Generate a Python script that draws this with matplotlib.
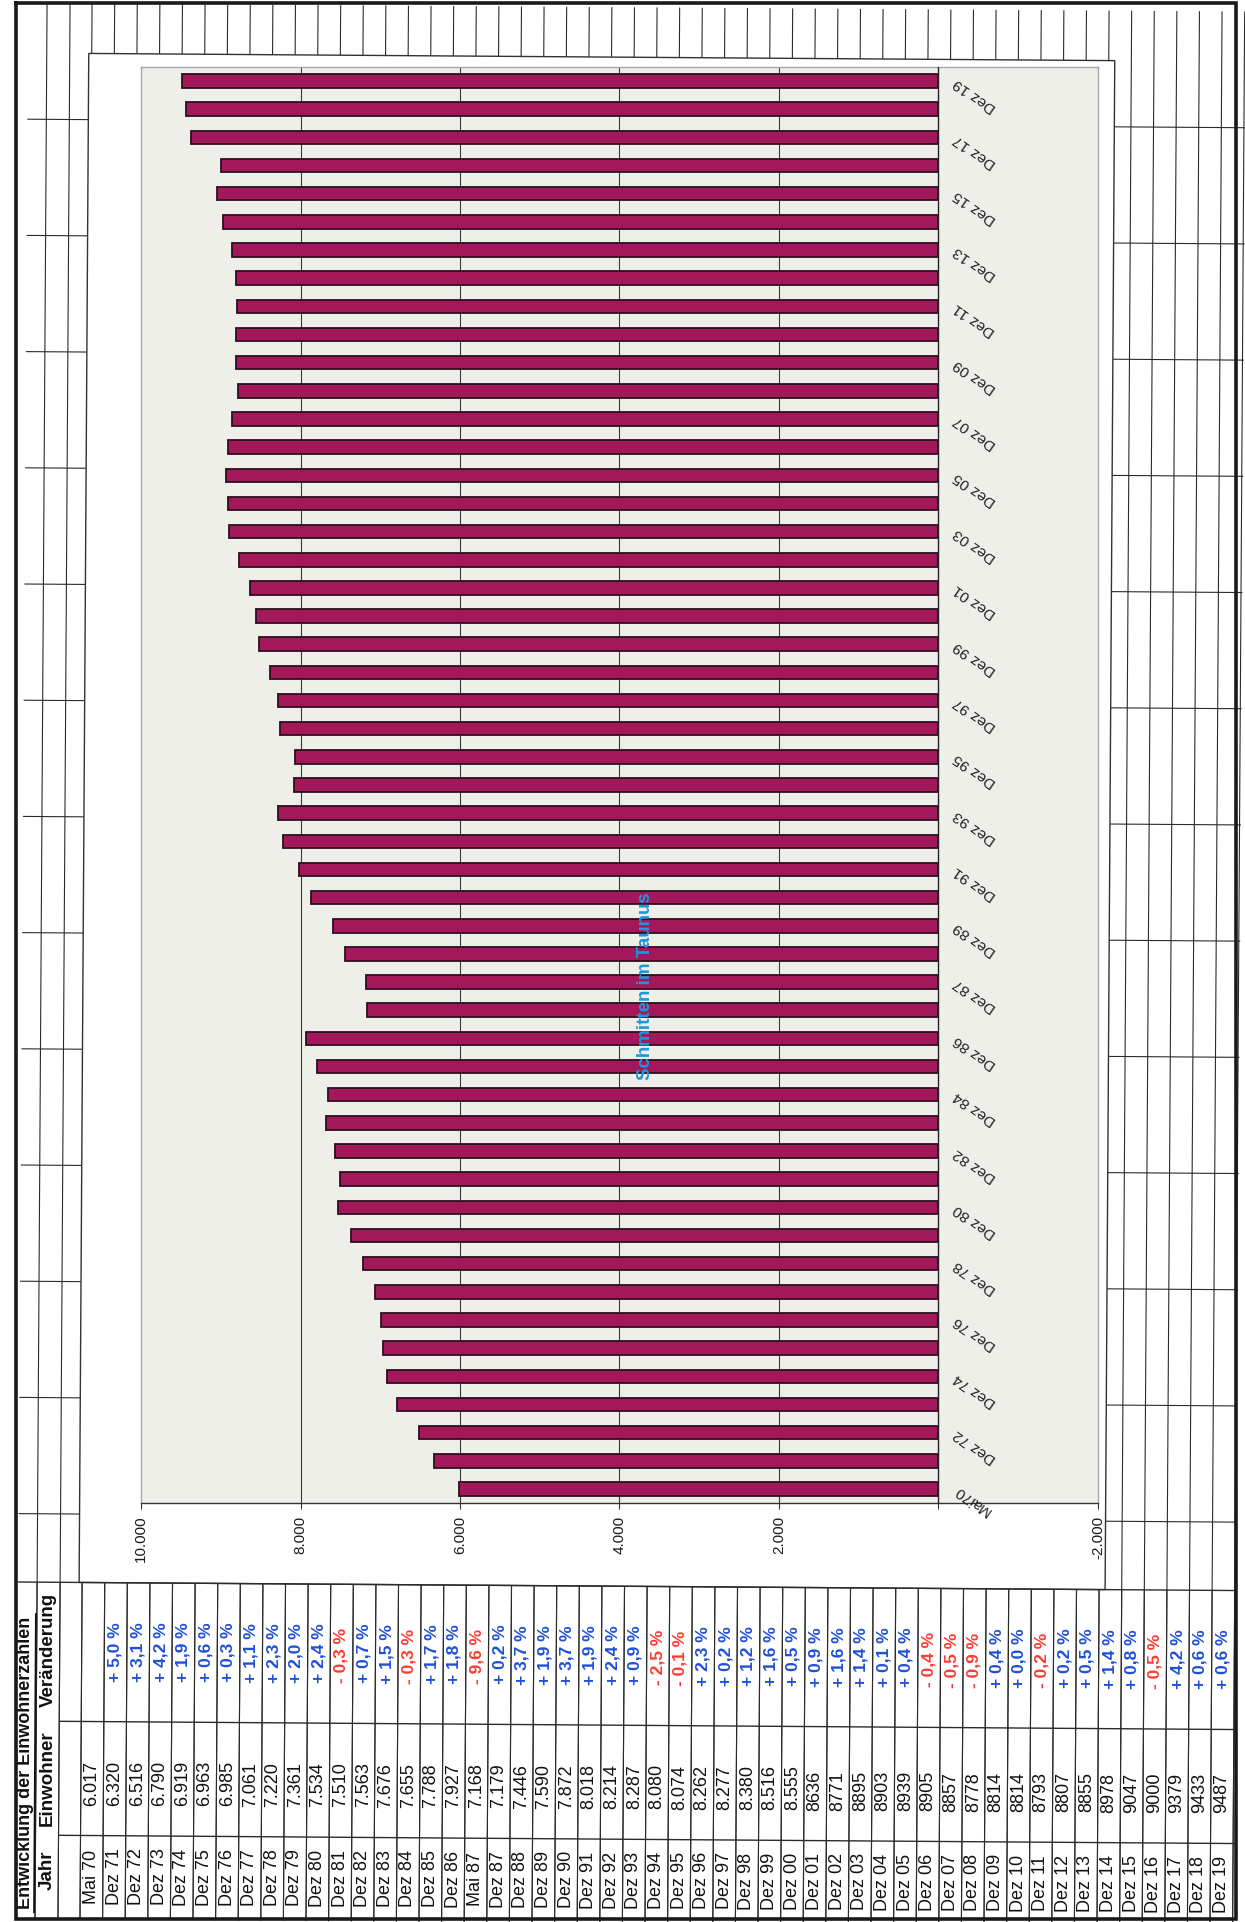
import matplotlib
matplotlib.use("Agg")
import matplotlib.pyplot as plt
from matplotlib.patches import Polygon
import numpy as np

plt.rcParams['font.family'] = ['Liberation Sans', 'DejaVu Sans']

# ---------------------------------------------------------------- data
jahr = ["Mai 70", "Dez 71", "Dez 72", "Dez 73", "Dez 74", "Dez 75", "Dez 76",
        "Dez 77", "Dez 78", "Dez 79", "Dez 80", "Dez 81", "Dez 82", "Dez 83",
        "Dez 84", "Dez 85", "Dez 86", "Mai 87", "Dez 87", "Dez 88", "Dez 89",
        "Dez 90", "Dez 91", "Dez 92", "Dez 93", "Dez 94", "Dez 95", "Dez 96",
        "Dez 97", "Dez 98", "Dez 99", "Dez 00", "Dez 01", "Dez 02", "Dez 03",
        "Dez 04", "Dez 05", "Dez 06", "Dez 07", "Dez 08", "Dez 09", "Dez 10",
        "Dez 11", "Dez 12", "Dez 13", "Dez 14", "Dez 15", "Dez 16", "Dez 17",
        "Dez 18", "Dez 19"]

einwohner = [6017, 6320, 6516, 6790, 6919, 6963, 6985, 7061, 7220, 7361,
             7534, 7510, 7563, 7676, 7655, 7788, 7927, 7168, 7179, 7446,
             7590, 7872, 8018, 8214, 8287, 8080, 8074, 8262, 8277, 8380,
             8516, 8555, 8636, 8771, 8895, 8903, 8939, 8905, 8857, 8778,
             8814, 8814, 8793, 8807, 8855, 8978, 9047, 9000, 9379, 9433,
             9487]

veraenderung = [None, 5.0, 3.1, 4.2, 1.9, 0.6, 0.3, 1.1, 2.3, 2.0,
                2.4, -0.3, 0.7, 1.5, -0.3, 1.7, 1.8, -9.6, 0.2, 3.7,
                1.9, 3.7, 1.9, 2.4, 0.9, -2.5, -0.1, 2.3, 0.2, 1.2,
                1.6, 0.5, 0.9, 1.6, 1.4, 0.1, 0.4, -0.4, -0.5, -0.9,
                0.4, 0.0, -0.2, 0.2, 0.5, 1.4, 0.8, -0.5, 4.2, 0.6,
                0.6]

# category axis labels (every second category is labelled)
achsen_beschriftung = ["Mai70", "Dez 72", "Dez 74", "Dez 76", "Dez 78",
                       "Dez 80", "Dez 82", "Dez 84", "Dez 86", "Dez 87",
                       "Dez 89", "Dez 91", "Dez 93", "Dez 95", "Dez 97",
                       "Dez 99", "Dez 01", "Dez 03", "Dez 05", "Dez 07",
                       "Dez 09", "Dez 11", "Dez 13", "Dez 15", "Dez 17",
                       "Dez 19"]

wert_ticks = [10000, 8000, 6000, 4000, 2000, 0, -2000]
wert_labels = ["10.000", "8.000", "6.000", "4.000", "2.000", "", "-2.000"]

titel = "Schmitten im Taunus"
tabellen_titel = "Entwicklung der Einwohnerzahlen"
spalten = ["Jahr", "Einwohner", "Veränderung"]

# ---------------------------------------------------------------- figure
W, H = 1245, 1922
fig = plt.figure(figsize=(W / 100, H / 100), dpi=100)
fig.patch.set_facecolor("white")

# sheet layer in pixel coordinates (y downwards)
bg = fig.add_axes([0, 0, 1, 1])
bg.set_xlim(0, W)
bg.set_ylim(H, 0)
bg.axis("off")


def rot(x, y):
    """Slight tilt of the printed page."""
    return x + 0.0063 * (1918 - y), y + 0.007 * (x - 15)


LINE = "#2b2b2b"


def seg(x0, y0, x1, y1, lw=0.8, c=LINE, z=1):
    a, b = rot(x0, y0)
    c2, d = rot(x1, y1)
    bg.plot([a, c2], [b, d], color=c, lw=lw, solid_capstyle="butt", zorder=z)


# sheet rows (vertical in print) and columns (horizontal in print)
row_x = [35, 58] + [80 + 22.6 * k for k in range(52)]
for x in row_x:
    seg(x, 3, x, 1919)

for k in range(1, 14):
    y = 3 + 116.2 * k
    seg(16, y, 1234, y)

# spreadsheet cell area of the embedded chart
cx0, cx1, cy0, cy1 = 77, 1103, 53, 1582
corners = [rot(cx0, cy0), rot(cx1, cy0), rot(cx1, cy1), rot(cx0, cy1)]
bg.add_patch(Polygon(corners, closed=True, facecolor="white",
                     edgecolor="#333333", lw=1.0, zorder=3))

# table lines
seg(16, 1582, 1234, 1582, lw=1.0, z=4)
seg(58, 1721, 1234, 1721, lw=1.0, z=4)
seg(58, 1835, 1234, 1835, lw=1.0, z=4)
for x in row_x:
    seg(x, 1582, x, 1919, lw=0.8, z=4)

# outer frame
bg.plot([16, 1236, 1236, 16, 16], [3, 3, 1919, 1919, 3], color="#1a1a1a",
        lw=2.6, zorder=6, solid_joinstyle="miter")

# table header and title
for txt, yc in zip(spalten, [1870, 1778, 1650]):
    px, py = rot(46.5, yc)
    bg.text(px, py, txt, rotation=90, ha="center", va="center",
            fontsize=13.5, fontweight="bold", color="#111111", zorder=5)

px, py = rot(25, 1763)
bg.text(px, py, tabellen_titel, rotation=90, ha="center", va="center",
        fontsize=13, fontweight="bold", color="#111111", zorder=5)
seg(34, 1613, 34, 1913, lw=1.3, c="#111111", z=5)

# table body
for i in range(len(jahr)):
    xc = 80 + 22.6 * (i + 0.5)
    px, py = rot(xc, 1876)
    bg.text(px, py, jahr[i], rotation=90, ha="center", va="center",
            fontsize=13, color="#111111", zorder=5)

    ew = f"{einwohner[i]:,}".replace(",", ".") if i <= 31 else str(einwohner[i])
    px, py = rot(xc, 1805)
    bg.text(px, py, ew, rotation=90, rotation_mode="anchor", ha="left",
            va="center", fontsize=13, color="#111111", zorder=5)

    v = veraenderung[i]
    if v is not None:
        sign = "-" if v < 0 else "+"
        txt = f"{sign} {abs(v):.1f} %".replace(".", ",")
        col = "#ff3b30" if v < 0 else "#1f4fd6"
        px, py = rot(xc, 1681)
        bg.text(px, py, txt, rotation=90, rotation_mode="anchor", ha="left",
                va="center", fontsize=12.5, fontweight="bold", color=col,
                zorder=5)

# ---------------------------------------------------------------- chart
pl, pr, pt, pb = 141, 1098, 67, 1503
ax = fig.add_axes([pl / W, 1 - pb / H, (pr - pl) / W, (pb - pt) / H])
ax.set_facecolor("#efefea")

pos = np.arange(len(einwohner))
ax.barh(pos, einwohner, height=0.48, color="#a3185a", edgecolor="#2e0f1e",
        lw=1.3, zorder=3)

ax.set_xlim(10000, -2000)
ax.set_ylim(-0.5, len(einwohner) - 0.5)

for v in [8000, 6000, 4000, 2000]:
    ax.axvline(v, color="#3a3a3a", lw=0.8, zorder=1)
ax.axvline(0, color="#222222", lw=1.0, zorder=4)

ax.set_xticks(wert_ticks)
ax.set_xticklabels(wert_labels, rotation=90, fontsize=11, color="#1a1a1a")
ax.tick_params(axis="x", direction="out", length=4, pad=5, color="#333333")
ax.set_yticks([])

for side in ["left", "top", "right"]:
    ax.spines[side].set_color("#a3a6b0")
    ax.spines[side].set_linewidth(1.0)
ax.spines["bottom"].set_color("#333333")
ax.spines["bottom"].set_linewidth(1.0)

for j, lab in enumerate(achsen_beschriftung):
    ax.annotate(lab, xy=(0, 2 * j), xytext=(12, 0), textcoords="offset points",
                rotation=145, rotation_mode="anchor", ha="right", va="center",
                fontsize=11, color="#222222", annotation_clip=False)

fig.text(646 / W, 1 - 986 / H, titel, rotation=90, ha="center", va="center",
         fontsize=13.5, fontweight="bold", color="#1e96dc")

fig.savefig("out.png", dpi=100)
